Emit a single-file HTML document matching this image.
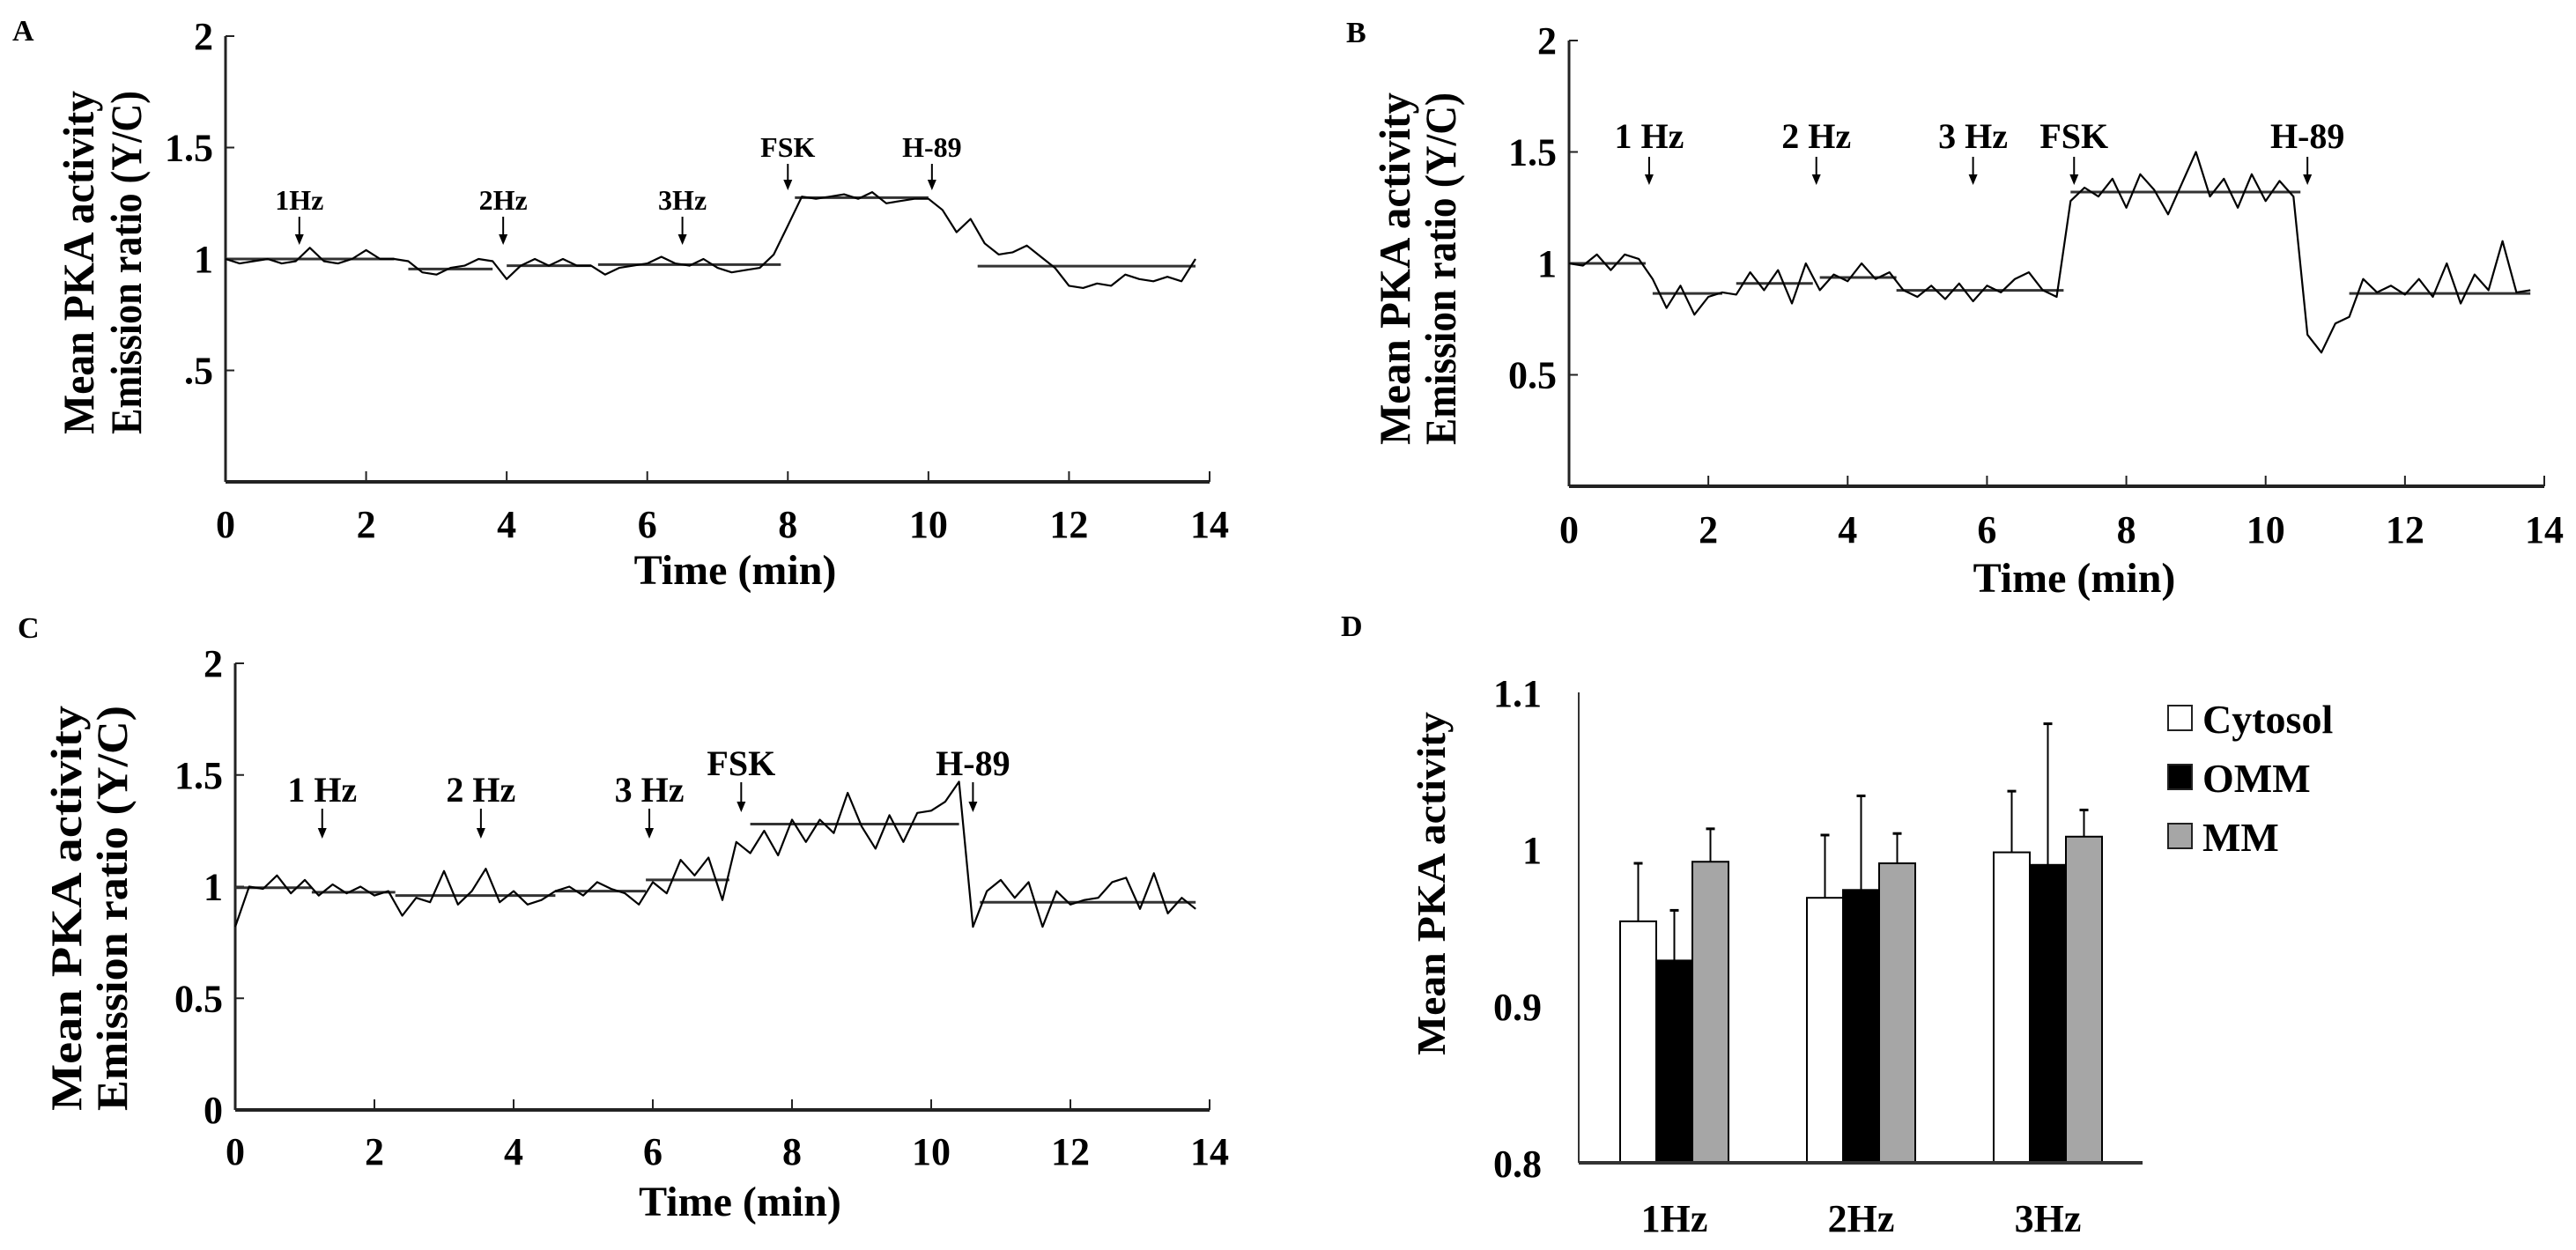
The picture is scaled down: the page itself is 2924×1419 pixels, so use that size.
<!DOCTYPE html>
<html><head><meta charset="utf-8"><style>
html,body{margin:0;padding:0;background:#fff;}
svg{display:block;font-family:"Liberation Serif",serif;font-weight:bold;}
</style></head><body>
<svg id="fig" width="2924" height="1419" viewBox="0 0 2924 1419" xmlns="http://www.w3.org/2000/svg"></svg>
<script>
// ---------- data ----------
const traceA = [1.00,0.98,0.99,1.00,0.98,0.99,1.05,0.99,0.98,1.00,1.04,1.00,1.00,0.99,0.94,0.93,0.96,0.97,1.00,0.99,0.91,0.97,1.00,0.97,1.00,0.97,0.97,0.93,0.96,0.97,0.98,1.01,0.98,0.97,1.00,0.96,0.94,0.95,0.96,1.02,1.15,1.28,1.27,1.28,1.29,1.27,1.30,1.25,1.26,1.27,1.27,1.22,1.12,1.18,1.07,1.02,1.03,1.06,1.01,0.96,0.88,0.87,0.89,0.88,0.93,0.91,0.90,0.92,0.90,1.00];
const meanStartA = [0,2.6,4.0,5.3,8.1,10.7];
const meanEndA = [2.4,3.8,5.2,7.9,10.0,13.8];
const meanValA = [1.00,0.955,0.97,0.975,1.275,0.968];
const eventLabelsA = ["1Hz","2Hz","3Hz","FSK","H-89"];
const eventTimesA = [1.05,3.95,6.5,8.0,10.05];

const traceB = [1.00,0.99,1.04,0.97,1.04,1.02,0.93,0.80,0.90,0.77,0.85,0.87,0.86,0.96,0.88,0.97,0.82,1.00,0.88,0.95,0.92,1.00,0.93,0.96,0.88,0.85,0.90,0.84,0.91,0.83,0.90,0.87,0.93,0.96,0.88,0.85,1.28,1.34,1.30,1.38,1.25,1.40,1.33,1.22,1.36,1.50,1.30,1.38,1.25,1.40,1.28,1.37,1.30,0.68,0.60,0.73,0.76,0.93,0.87,0.90,0.86,0.93,0.85,1.00,0.82,0.95,0.88,1.10,0.87,0.88];
const meanStartB = [0,1.2,2.4,3.6,4.7,7.2,11.2];
const meanEndB = [1.1,2.2,3.5,4.7,7.1,10.5,13.8];
const meanValB = [1.00,0.865,0.91,0.937,0.879,1.32,0.865];
const eventLabelsB = ["1 Hz","2 Hz","3 Hz","FSK","H-89"];
const eventTimesB = [1.15,3.55,5.8,7.25,10.6];

const traceC = [0.82,1.00,0.99,1.05,0.97,1.03,0.96,1.01,0.97,1.00,0.96,0.98,0.87,0.95,0.93,1.07,0.92,0.98,1.08,0.93,0.98,0.92,0.94,0.98,1.00,0.96,1.02,0.99,0.97,0.92,1.02,0.97,1.12,1.05,1.13,0.94,1.20,1.15,1.25,1.14,1.30,1.20,1.30,1.24,1.42,1.27,1.17,1.32,1.20,1.33,1.34,1.38,1.47,0.82,0.98,1.03,0.95,1.02,0.82,0.98,0.92,0.94,0.95,1.02,1.04,0.90,1.06,0.88,0.95,0.90];
const meanStartC = [0,1.1,2.3,4.6,5.9,7.4,10.7];
const meanEndC = [1.1,2.3,4.6,5.9,7.1,10.4,13.8];
const meanValC = [0.995,0.975,0.96,0.98,1.03,1.28,0.93];
const eventLabelsC = ["1 Hz","2 Hz","3 Hz","FSK","H-89"];
const eventTimesC = [1.25,3.53,5.95,7.27,10.6];

const barCategories = ["1Hz","2Hz","3Hz"];
const barSeries = ["Cytosol","OMM","MM"];
const cytosolVals = [0.954,0.969,0.998];
const ommVals = [0.929,0.974,0.990];
const mmVals = [0.992,0.991,1.008];
const cytosolErr = [0.037,0.040,0.039];
const ommErr = [0.032,0.060,0.090];
const mmErr = [0.021,0.019,0.017];
const barTicks = ["0.8","0.9","1","1.1"];
const barTickVals = [0.8,0.9,1.0,1.1];

// ---------- helpers ----------
const NS = "http://www.w3.org/2000/svg";
const svg = document.getElementById("fig");
function mk(tag, attrs, parent){
  const e = document.createElementNS(NS, tag);
  for (const k in attrs) e.setAttribute(k, attrs[k]);
  (parent||svg).appendChild(e);
  return e;
}

function linePanel(cfg){
  const g = mk("g", {});
  
  
  const X = t => cfg.x0 + (cfg.x1 - cfg.x0) * t / 14;
  const Y = v => cfg.yb + (cfg.y2 - cfg.yb) * v / 2;
  // axes
  const ya = mk("line", {x1:X(0), y1:Y(2), x2:X(0), y2:Y(0), stroke:"#222", "stroke-width":3}, g);
  
  
  const xa = mk("line", {x1:X(0), y1:Y(0), x2:X(14), y2:Y(0), stroke:"#222", "stroke-width":4}, g);
  
  
  for (let t = 0; t <= 14; t += 2){
    if (t > 0) mk("line", {x1:X(t), y1:Y(0), x2:X(t), y2:Y(0)-12, stroke:"#222", "stroke-width":2}, g);
    const tl = mk("text", {x:X(t), y:cfg.tickY, "text-anchor":"middle", "font-size":44}, g);
    tl.textContent = String(t);
    
    
  }
  cfg.yTicks.forEach((lab, i) => {
    const v = cfg.yTickVals[i];
    mk("line", {x1:X(0), y1:Y(v), x2:X(0)+10, y2:Y(v), stroke:"#222", "stroke-width":2}, g);
    const tl = mk("text", {x:X(0)-14, y:Y(v)+15, "text-anchor":"end", "font-size":44}, g);
    tl.textContent = lab;
    
    
  });
  // title
  const xt = mk("text", {x:(X(0)+X(14))/2 + 20, y:cfg.titleY, "text-anchor":"middle", "font-size":48}, g);
  xt.textContent = "Time (min)";
  
  
  const yt = mk("text", {transform:`translate(${cfg.ylX1},${cfg.ylY}) rotate(-90)`, "text-anchor":"middle", "font-size":50, textLength:cfg.ylLen, lengthAdjust:"spacingAndGlyphs"}, g);
  yt.textContent = "Mean PKA activity";
  
  
  const yt2 = mk("text", {transform:`translate(${cfg.ylX2},${cfg.ylY}) rotate(-90)`, "text-anchor":"middle", "font-size":50, textLength:cfg.ylLen, lengthAdjust:"spacingAndGlyphs"}, g);
  yt2.textContent = "Emission ratio (Y/C)";
  
  
  // means
  cfg.ms.forEach((s, i) => {
    const m = mk("line", {x1:X(s), y1:Y(cfg.mv[i]), x2:X(cfg.me[i]), y2:Y(cfg.mv[i]), stroke:"#333", "stroke-width":3}, g);
    
    
  });
  // trace
  const pts = cfg.trace.map((v, i) => X(i * 0.2).toFixed(1) + "," + Y(v).toFixed(1)).join(" ");
  const pl = mk("polyline", {points:pts, fill:"none", stroke:"#000", "stroke-width":2.2, "stroke-linejoin":"round"}, g);
  
  
  // events
  cfg.evL.forEach((lab, i) => {
    const x = X(cfg.evT[i]);
    const big = (lab === "FSK" || lab === "H-89");
    const ly = big ? cfg.bigLabelY : cfg.labelY;
    const ay1 = big ? cfg.bigArrowTop : cfg.arrowTop;
    const ay2 = big ? cfg.bigArrowBot : cfg.arrowBot;
    const t = mk("text", {x:x, y:ly, "text-anchor":"middle", "font-size":cfg.evFont}, g);
    t.textContent = lab;
    
    
    const a = mk("line", {x1:x, y1:ay1, x2:x, y2:ay2-6, stroke:"#000", "stroke-width":2}, g);
    
    
    mk("path", {d:`M${x-5},${ay2-12} L${x+5},${ay2-12} L${x},${ay2} Z`, fill:"#000"}, g);
  });
  const pl2 = mk("text", {x:cfg.pLX, y:cfg.pLY, "font-size":34}, g);
  pl2.textContent = cfg.letter;
  
  
}

linePanel({name:"panel-a", letter:"A", pLX:14, pLY:46, x0:256, x1:1373, y2:41, yb:547,
  yTicks:["2","1.5","1",".5"], yTickVals:[2,1.5,1,0.5], tickY:610, titleY:663,
  ylX1:106, ylX2:160, ylY:298, ylLen:390,
  trace:traceA, ms:meanStartA, me:meanEndA, mv:meanValA, evL:eventLabelsA, evT:eventTimesA,
  evFont:32, labelY:238, arrowTop:246, arrowBot:278, bigLabelY:178, bigArrowTop:186, bigArrowBot:216});

linePanel({name:"panel-b", letter:"B", pLX:1528, pLY:48, x0:1781, x1:2888, y2:46, yb:552,
  yTicks:["2","1.5","1","0.5"], yTickVals:[2,1.5,1,0.5], tickY:616, titleY:672,
  ylX1:1600, ylX2:1652, ylY:305, ylLen:400,
  trace:traceB, ms:meanStartB, me:meanEndB, mv:meanValB, evL:eventLabelsB, evT:eventTimesB,
  evFont:40, labelY:168, arrowTop:178, arrowBot:210, bigLabelY:168, bigArrowTop:178, bigArrowBot:210});

linePanel({name:"panel-c", letter:"C", pLX:20, pLY:724, x0:267, x1:1373, y2:753, yb:1260,
  yTicks:["2","1.5","1","0.5","0"], yTickVals:[2,1.5,1,0.5,0], tickY:1322, titleY:1380,
  ylX1:92, ylX2:144, ylY:1031, ylLen:460,
  trace:traceC, ms:meanStartC, me:meanEndC, mv:meanValC, evL:eventLabelsC, evT:eventTimesC,
  evFont:40, labelY:910, arrowTop:918, arrowBot:952, bigLabelY:880, bigArrowTop:888, bigArrowBot:922});

// ---------- panel D: bars ----------
(function(){
  const g = mk("g", {});
  
  
  const ax = 1792, yb = 1320, yt = 786;
  const Y = v => yb - (yb - yt) * (v - 0.8) / 0.3;
  const groupX = i => 1839 + i * 212;
  const bw = 41;
  const fills = ["#fff","#000","#a6a6a6"];
  const vals = [cytosolVals, ommVals, mmVals];
  const errs = [cytosolErr, ommErr, mmErr];
  const ya = mk("line", {x1:ax, y1:yt, x2:ax, y2:yb, stroke:"#333", "stroke-width":2}, g);
  
  
  barTicks.forEach((lab, i) => {
    const t = mk("text", {x:1750, y:Y(barTickVals[i])+16, "text-anchor":"end", "font-size":44}, g);
    t.textContent = lab;
    
    
  });
  barCategories.forEach((cat, ci) => {
    vals.forEach((arr, si) => {
      const x = groupX(ci) + si * bw;
      const e = mk("line", {x1:x+bw/2, y1:Y(arr[ci]), x2:x+bw/2, y2:Y(arr[ci]+errs[si][ci]), stroke:"#000", "stroke-width":2}, g);
      
      
      mk("line", {x1:x+bw/2-5, y1:Y(arr[ci]+errs[si][ci]), x2:x+bw/2+5, y2:Y(arr[ci]+errs[si][ci]), stroke:"#000", "stroke-width":3}, g);
      const r = mk("rect", {x:x, y:Y(arr[ci]), width:bw, height:yb - Y(arr[ci]), fill:fills[si], stroke:"#000", "stroke-width":2}, g);
      
      
    });
    const t = mk("text", {x:groupX(ci) + 1.5*bw, y:1398, "text-anchor":"middle", "font-size":44}, g);
    t.textContent = cat;
    
    
  });
  const xa = mk("line", {x1:ax, y1:yb, x2:2432, y2:yb, stroke:"#333", "stroke-width":4}, g);
  
  
  const ytl = mk("text", {transform:"translate(1640,1003) rotate(-90)", "text-anchor":"middle", "font-size":46, textLength:390, lengthAdjust:"spacingAndGlyphs"}, g);
  ytl.textContent = "Mean PKA activity";
  
  
  barSeries.forEach((s, si) => {
    const cy = 815 + si * 67;
    const sq = mk("rect", {x:2461, y:cy-14, width:27, height:28, fill:fills[si], stroke:"#222", "stroke-width":2}, g);
    
    
    const t = mk("text", {x:2500, y:cy+17, "font-size":46}, g);
    t.textContent = s;
    
    
  });
  const pl = mk("text", {x:1522, y:722, "font-size":34}, g);
  pl.textContent = "D";
  
  
})();
</script>
</body></html>
